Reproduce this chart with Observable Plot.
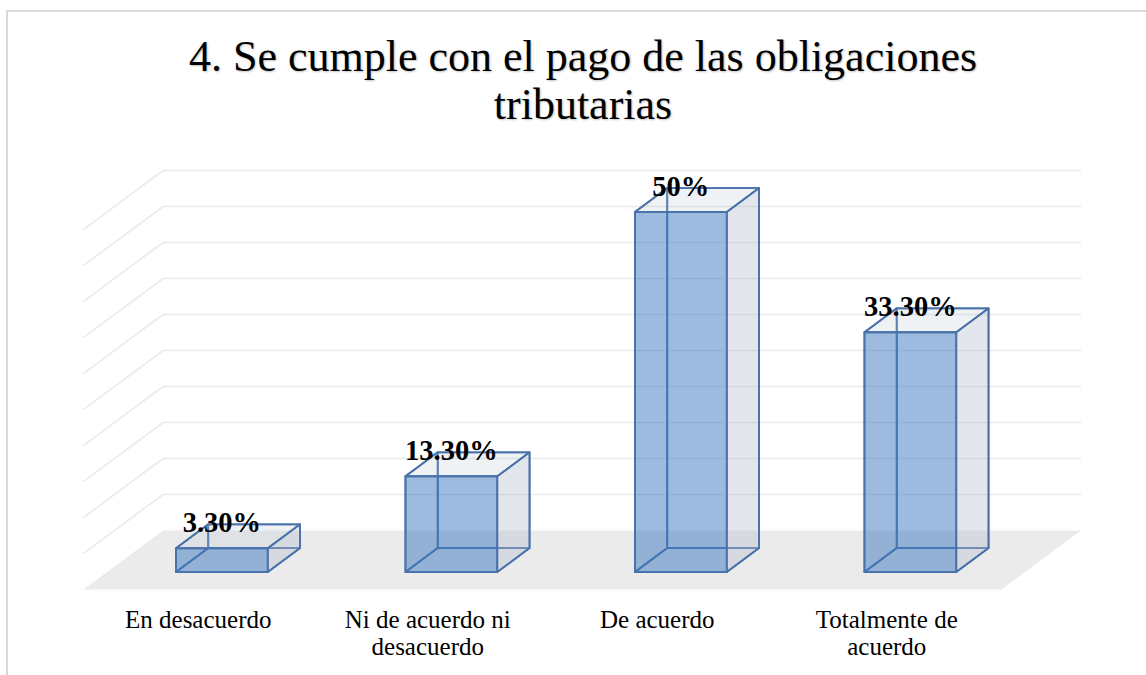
<!DOCTYPE html>
<html>
<head>
<meta charset="utf-8">
<script src="https://cdn.jsdelivr.net/npm/d3@7"></script>
<script src="https://cdn.jsdelivr.net/npm/@observablehq/plot@0.6"></script>
<style>
  html, body { margin: 0; padding: 0; background: #fff; width: 1146px; height: 675px; overflow: hidden; }
  #frame { position: absolute; left: 6px; top: 10px; width: 1200px; height: 700px;
           border-top: 2px solid #d9d9d9; border-left: 2px solid #d9d9d9; box-sizing: border-box; }
  #title { position: absolute; left: 20px; top: 33px; width: 1126px; text-align: center;
           font-family: "Liberation Serif", serif; font-size: 44px; line-height: 48px; color: #000;
           text-shadow: 1px 1px 2px rgba(0,0,0,0.25); }
  #chart { position: absolute; left: 0; top: 140px; }
</style>
</head>
<body>
<div id="frame"></div>
<div id="title">4. Se cumple con el pago de las obligaciones<br>tributarias</div>
<div id="chart"></div>
<script>
// ---- data ----
const categories = ["En desacuerdo", "Ni de acuerdo ni desacuerdo", "De acuerdo", "Totalmente de acuerdo"];
const tickLabels = ["En desacuerdo", "Ni de acuerdo ni\ndesacuerdo", "De acuerdo", "Totalmente de\nacuerdo"];
const values = [3.3, 13.3, 50, 33.3];
const valueLabels = ["3.30%", "13.30%", "50%", "33.30%"];
const gridTicks = [5, 10, 15, 20, 25, 30, 35, 40, 45, 50];

// ---- oblique 3D geometry (in scale units) ----
const DEPTH_X = 0.3464;   // category-band units per unit of depth
const DEPTH_Y = 8.19;     // percent units per unit of depth
const FRONT = 0.297, BACK = 0.703, HALF = 0.2;
const proj = (u, d, v) => ({x: u + d * DEPTH_X, y: v + d * DEPTH_Y});
const n = categories.length;

function poly(id, pts) { return pts.map(([u, d, v]) => ({id, ...proj(u, d, v)})); }

const floorFace = poly("floor", [[0, 0, 0], [n, 0, 0], [n, 1, 0], [0, 1, 0]]);

const hiddenFaces = [], rightFaces = [], topFaces = [], frontFaces = [];
values.forEach((v, i) => {
  const uL = i + 0.5 - HALF, uR = i + 0.5 + HALF;
  hiddenFaces.push(...poly(`b${i}`, [[uL, FRONT, 0], [uR, FRONT, 0], [uR, BACK, 0], [uL, BACK, 0]]));
  hiddenFaces.push(...poly(`k${i}`, [[uL, BACK, 0], [uR, BACK, 0], [uR, BACK, v], [uL, BACK, v]]));
  hiddenFaces.push(...poly(`l${i}`, [[uL, FRONT, 0], [uL, BACK, 0], [uL, BACK, v], [uL, FRONT, v]]));
  rightFaces.push(...poly(`r${i}`, [[uR, FRONT, 0], [uR, BACK, 0], [uR, BACK, v], [uR, FRONT, v]]));
  topFaces.push(...poly(`t${i}`, [[uL, FRONT, v], [uR, FRONT, v], [uR, BACK, v], [uL, BACK, v]]));
  frontFaces.push(...poly(`f${i}`, [[uL, FRONT, 0], [uR, FRONT, 0], [uR, FRONT, v], [uL, FRONT, v]]));
});

const EDGE = "#4a72aa";
const GRID = "#e9e9e9";
const face = (data, fill, fillOpacity) => Plot.line(data, {
  x: "x", y: "y", z: "id", curve: "linear-closed",
  fill, fillOpacity, stroke: EDGE, strokeWidth: 1.8, strokeLinejoin: "round"
});

const chart = Plot.plot({
  width: 1146,
  height: 535,
  margin: 0,
  style: {background: "transparent", overflow: "visible"},
  x: {type: "linear", domain: [0, n], range: [83, 1001], axis: null},
  y: {type: "linear", domain: [0, 50], range: [449, 89], axis: null},
  marks: [
    Plot.line(floorFace, {x: "x", y: "y", z: "id", curve: "linear-closed", fill: "#ebebeb", stroke: "none"}),
    // side wall grid
    Plot.link(gridTicks, {
      x1: () => proj(0, 0, 0).x, y1: (v) => proj(0, 0, v).y,
      x2: () => proj(0, 1, 0).x, y2: (v) => proj(0, 1, v).y,
      stroke: GRID, strokeWidth: 1.5
    }),
    // back wall grid
    Plot.link(gridTicks, {
      x1: () => proj(0, 1, 0).x, y1: (v) => proj(0, 1, v).y,
      x2: () => proj(n, 1, 0).x, y2: (v) => proj(n, 1, v).y,
      stroke: GRID, strokeWidth: 1.5
    }),
    face(hiddenFaces, "none", 1),
    face(rightFaces, "#aeb8c9", 0.35),
    face(topFaces, "#b0bccf", 0.2),
    face(frontFaces, "#3b77bf", 0.5),
    Plot.text(values, {
      x: (v, i) => proj(i + 0.5, FRONT, v).x,
      y: (v, i) => proj(i + 0.5, FRONT, v).y,
      text: (v, i) => valueLabels[i],
      lineAnchor: "bottom", dy: -16,
      fontFamily: "Liberation Serif", fontWeight: "bold", fontSize: 28.5, fill: "#000"
    }),
    Plot.text(tickLabels, {
      x: (t, i) => proj(i + 0.5, 0, 0).x,
      y: () => proj(0, 0, 0).y,
      text: (t) => t,
      lineAnchor: "top", lineHeight: 1.08, dy: 19.3,
      fontFamily: "Liberation Serif", fontSize: 25, fill: "#000"
    })
  ]
});
document.getElementById("chart").appendChild(chart);
</script>
</body>
</html>
